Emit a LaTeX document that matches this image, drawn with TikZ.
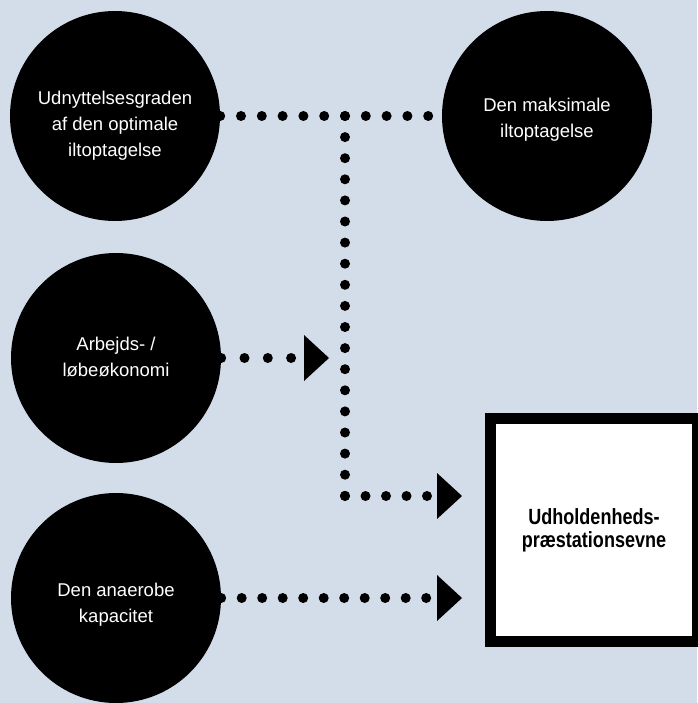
\documentclass[tikz,border=0pt]{standalone}
\usepackage{fontspec}
\setmainfont{Liberation Sans}
\newfontfamily\condfont[FakeStretch=0.82]{Liberation Sans}
\usetikzlibrary{arrows.meta}
\definecolor{bgc}{HTML}{D3DDE9}
\begin{document}
\begin{tikzpicture}[x=1pt,y=-1pt,
  circ/.style={circle,fill=black,minimum size=210pt,inner sep=0pt},
  ctext/.style={text=white,align=center,inner sep=0pt,font=\fontsize{18.5}{26}\selectfont},
  dotline/.style={line width=10pt,line cap=round,dash pattern=on 0pt off #1},
  dotline/.default=20.8pt,
  tipped/.style={-{Triangle[width=46pt,length=25pt,line width=0pt]}},
  boxstyle/.style={draw=black,line width=11pt,fill=white,minimum width=207pt,minimum height=223pt,inner sep=0pt,align=center,font=\condfont\bfseries\fontsize{22}{23}\selectfont}]
\fill[bgc] (0,0) rectangle (697,703);
\useasboundingbox (0,0) rectangle (697,703);

\node[circ] (c1) at (115,116) {};
\node[circ] (c2) at (547,116) {};
\node[circ] (c3) at (116,358) {};
\node[circ] (c4) at (116,598) {};
\node[boxstyle] (box) at (594,530) {Udholdenheds-\\præstationsevne};

\node[ctext] (t1) at (115,126) {Udnyttelsesgraden\\af den optimale\\iltoptagelse};
\node[ctext] (t2) at (547,120) {Den maksimale\\iltoptagelse};
\node[ctext] (t3) at (116,357) {Arbejds- /\\løbeøkonomi};
\node[ctext] (t4) at (116,605) {Den anaerobe\\kapacitet};

\coordinate (j1) at (345,116);
\coordinate (j2) at (345,496);

\draw[dotline=20.8pt] (c1.east) -- (c2.west);
\draw[dotline=21.1pt] (j1) -- (j2);
\draw[dotline=20.5pt,tipped] (j2) -- ([xshift=-23pt]j2 -| box.west);
\draw[dotline=23.3pt,tipped] (c3.east) -- ([xshift=-16pt]c3.east -| j1);
\draw[dotline=20.5pt,tipped] (c4.east) -- ([xshift=-23pt]c4.east -| box.west);
\end{tikzpicture}
\end{document}
